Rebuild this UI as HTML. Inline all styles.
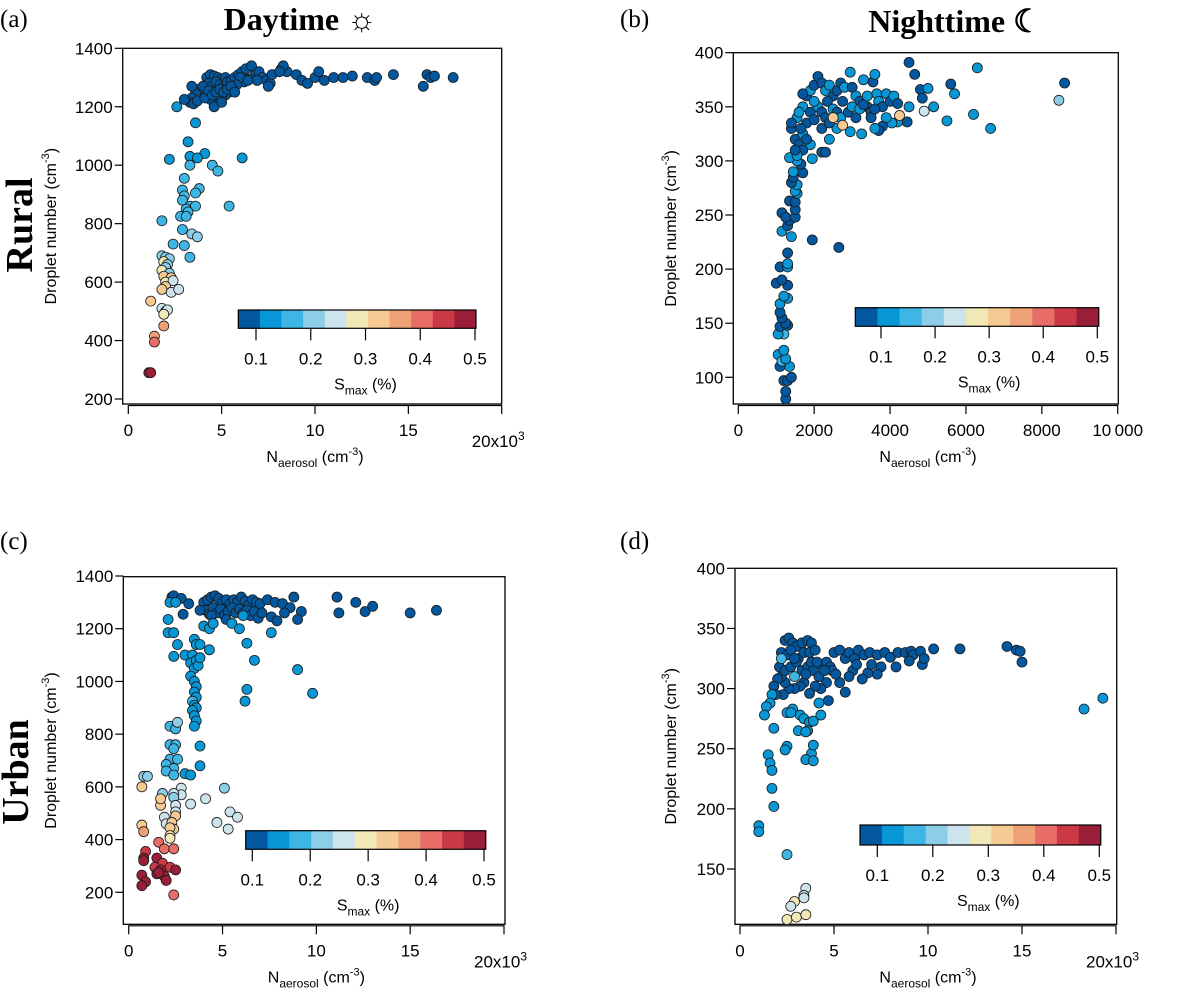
<!DOCTYPE html>
<html><head><meta charset="utf-8"><style>
body{margin:0;background:#fff}
svg text{font-family:"Liberation Sans",Arial,sans-serif;fill:#000}
.serif{font-family:"Liberation Serif","DejaVu Serif",serif}
</style></head><body>
<svg id="fig" width="1187" height="991" viewBox="0 0 1187 991" xmlns="http://www.w3.org/2000/svg">
<text class="serif" x="0" y="27" font-size="25">(a)</text>
<text class="serif" x="620" y="27" font-size="25">(b)</text>
<text class="serif" x="0" y="549" font-size="25">(c)</text>
<text class="serif" x="620" y="549" font-size="25">(d)</text>
<text class="serif" x="300" y="30" font-size="32" font-weight="bold" text-anchor="middle">Daytime ☼</text>
<text class="serif" x="955" y="32" font-size="32" font-weight="bold" text-anchor="middle">Nighttime ☾</text>
<text class="serif" transform="translate(32,225) rotate(-90)" font-size="38" font-weight="bold" text-anchor="middle">Rural</text>
<text class="serif" transform="translate(28,772) rotate(-90)" font-size="38" font-weight="bold" text-anchor="middle">Urban</text>
</svg>
<script>
// ---- data: [N_aerosol, droplet number, Smax] ----
const aPts=[[8.2,1330,.08],[8.5,1320,.08],[9,1310,.08],[9.3,1290,.08],[9.6,1280,.08],[10,1300,.08],[10.2,1320,.08],[10.5,1290,.08],[11,1300,.08],[11.5,1300,.08],[12,1305,.08],[12.8,1300,.08],[13.2,1290,.08],[13.3,1300,.08],[14.2,1310,.08],[15.8,1270,.08],[16,1310,.08],[16.2,1300,.08],[16.4,1305,.08],[17.4,1300,.08],
[4.2,1300,.08],[4.4,1310,.08],[4.6,1305,.08],[4.8,1300,.08],[5.0,1295,.08],[5.2,1300,.08],[4.3,1280,.08],[4.5,1270,.08],[4.7,1285,.08],[4.9,1275,.08],[5.1,1270,.08],[5.3,1285,.08],[5.5,1290,.08],[5.7,1300,.08],[5.9,1310,.08],[6.1,1320,.08],[6.3,1330,.08],[6.6,1340,.08],[6.8,1310,.08],[7.0,1320,.08],[7.2,1300,.08],[7.4,1290,.08],[7.6,1280,.08],[7.7,1310,.08],[7.5,1270,.08],[6.5,1295,.08],[6.2,1285,.08],[6.0,1300,.08],[5.8,1275,.08],[5.6,1260,.08],[5.4,1250,.08],[5.2,1240,.08],[5.0,1230,.08],[4.8,1225,.08],[4.6,1210,.08],[4.4,1225,.08],[4.2,1240,.08],[4.0,1250,.08],[3.8,1260,.08],[3.6,1245,.08],[3.4,1230,.08],[3.3,1215,.08],[3.0,1225,.08],[3.5,1210,.08],[3.7,1220,.08],[4.0,1270,.08],[4.1,1230,.08],[4.3,1255,.08],[4.5,1240,.08],[4.7,1250,.08],[4.9,1260,.08],[5.1,1250,.08],[5.3,1260,.08],[5.5,1270,.08],[5.7,1250,.08],[3.4,1270,.08],[4.6,1200,.08],[5.0,1215,.08],[6.4,1290,.08],[6.9,1290,.08],[8.3,1340,.08],[8.1,1320,.08],
[2.6,1200,.13],[3.6,1145,.13],[3.2,1080,.13],[2.2,1020,.12],[4.1,1040,.13],[3.3,1030,.13],[3.7,1025,.13],[6.1,1025,.12],[3.3,1000,.14],[4.5,1000,.14],[4.8,980,.14],[3,955,.14],[2.9,915,.14],[3.8,920,.15],[3.6,905,.15],[3,895,.15],[2.9,880,.15],[5.4,860,.15],[3.3,860,.15],[3.6,860,.16],[3.1,850,.15],[3.2,840,.15],[2.8,825,.15],[3.1,825,.16],[1.8,810,.14],[2.9,780,.17],[3.4,765,.18],[3.7,755,.18],[2.4,730,.15],[3,725,.15],[3.3,685,.15],
[1.8,690,.2],[2,685,.18],[2.2,680,.2],[1.9,670,.29],[2.1,660,.2],[2,650,.18],[1.8,640,.28],[2.2,630,.2],[1.9,620,.3],[2.3,615,.31],[2.0,600,.29],[2.4,605,.25],[2,585,.3],[1.8,575,.3],[2.3,565,.22],[2.7,575,.25],[1.2,535,.32],[1.8,510,.22],[2,500,.25],[2.1,505,.24],[1.9,490,.27],[1.9,450,.35],[1.4,415,.36],[1.4,395,.38],[1.1,290,.48],[1.2,290,.48]];
const bPts=[[1250,80,.08],[1250,87,.08],[1200,97,.08],[1300,97,.08],[1400,100,.08],[1350,110,.12],[1100,110,.08],[1050,121,.12],[1150,115,.14],[1250,117,.12],[1200,125,.12],[1200,140,.14],[1050,140,.12],[1100,147,.08],[1300,148,.08],[1250,150,.08],[1150,155,.08],[1100,160,.08],[1100,168,.12],[1300,173,.12],[1200,175,.12],[1300,185,.08],[1000,187,.08],[1150,190,.08],[1100,202,.08],[1300,202,.12],[1300,205,.12],[1300,215,.08],[1150,235,.12],[1400,230,.12],[1300,240,.08],[1350,245,.08],[1150,252,.08],[1250,248,.08],[1500,248,.08],[1500,255,.08],[1350,263,.08],[1500,262,.08],[1550,270,.12],[1500,272,.12],[1550,278,.12],[1400,280,.08],[1450,285,.08],[1450,290,.12],[1700,289,.08],[1650,297,.08],[1550,300,.12],[1350,303,.12],[1950,302,.12],[2650,220,.08],[1950,227,.08],
[4500,391,.08],[4650,380,.08],[6300,386,.12],[4800,366,.08],[5000,367,.12],[4850,358,.08],[5600,371,.08],[5700,362,.12],[5150,350,.12],[4900,346,.22],[4500,350,.12],[4450,336,.08],[5500,337,.12],[6200,343,.12],[6650,330,.12],[8450,356,.2],[8600,372,.08],
[1400,330,.08],[1500,320,.08],[1600,315,.08],[1700,325,.12],[1800,335,.08],[1550,340,.12],[1700,350,.12],[1800,360,.08],[1900,365,.12],[2000,370,.08],[2100,378,.08],[2200,372,.08],[2300,365,.12],[2400,370,.12],[2500,360,.08],[2600,365,.08],[2700,372,.08],[2800,368,.12],[2950,382,.12],[3000,368,.08],[3100,360,.12],[3200,355,.08],[3300,375,.12],[3400,350,.08],[3500,345,.08],[3550,373,.08],[3600,380,.12],[3650,362,.12],[3700,355,.12],[3800,350,.08],[3900,362,.12],[4000,355,.08],[4100,360,.12],[4200,353,.08],[4200,336,.12],[4050,335,.12],[3900,340,.12],[3800,332,.08],[3700,328,.08],[3600,330,.12],[3250,325,.12],[2950,327,.12],[2600,330,.12],[2400,320,.12],[2200,308,.08],[2300,308,.08],[1900,315,.12],[1700,310,.08],[1550,305,.12],[1650,330,.08],[1900,345,.08],[2000,338,.08],[2100,350,.12],[2200,345,.08],[2300,340,.08],[2350,355,.08],[2500,348,.12],[2600,345,.08],[2700,340,.12],[2750,355,.08],[2900,345,.08],[3000,350,.12],[3100,340,.08],[3200,348,.12],[3300,352,.08],[3400,360,.12],[2000,355,.12],[2200,330,.08],[2400,335,.08],[1800,320,.08],[1500,310,.08],[1600,345,.12],[1400,335,.08],[1700,362,.08],[3500,340,.08],[3600,348,.08],
[4250,342,.3],[2750,333,.3],[2500,340,.3]];
const cPts=[[2.3,1320,.08],[2.4,1325,.08],[2.8,1315,.08],[3.2,1295,.08],[2.9,1255,.08],[4.0,1300,.08],[4.2,1310,.08],[4.4,1320,.08],[4.6,1325,.08],[4.8,1315,.08],[5.0,1300,.08],[5.2,1310,.08],[5.4,1295,.08],[5.6,1310,.08],[5.8,1300,.08],[6.0,1320,.08],[6.2,1305,.08],[6.4,1290,.08],[6.6,1310,.08],[6.8,1300,.08],[7.0,1295,.08],[7.4,1310,.08],[7.8,1300,.08],[8.2,1295,.08],[8.6,1280,.08],[8.8,1320,.08],[4.1,1270,.08],[4.3,1255,.08],[4.5,1280,.08],[4.7,1260,.08],[4.9,1275,.08],[5.1,1250,.08],[5.3,1265,.08],[5.5,1280,.08],[5.7,1260,.08],[5.9,1275,.08],[6.1,1260,.08],[6.3,1270,.08],[6.5,1250,.08],[6.7,1265,.08],[6.9,1240,.08],[7.1,1260,.08],[7.6,1245,.08],[7.9,1230,.08],[8.3,1260,.08],[9.2,1265,.08],[9.0,1235,.08],[11.1,1320,.08],[11.2,1260,.08],[12.1,1300,.08],[12.6,1265,.08],[13.0,1285,.08],[15.0,1260,.08],[16.4,1270,.08],[4.4,1250,.08],[3.8,1270,.08],[5.2,1235,.08],
[2.2,1300,.13],[2.5,1300,.13],[2.1,1235,.13],[2.1,1185,.13],[2.4,1185,.13],[2.6,1140,.13],[2.4,1095,.13],[3.0,1100,.13],[3.4,1100,.13],[3.5,1160,.13],[3.6,1140,.13],[3.8,1140,.13],[4.3,1120,.13],[3.3,1070,.13],[3.5,1050,.13],[3.6,1080,.13],[3.7,1060,.13],[3.3,1020,.13],[3.5,1000,.13],[3.6,980,.13],[3.5,960,.13],[3.6,940,.13],[3.4,925,.14],[3.5,910,.13],[3.6,900,.13],[3.4,890,.13],[3.5,870,.13],[3.6,850,.13],[3.5,830,.13],[3.8,1090,.13],[4.0,1210,.13],[4.3,1200,.13],[4.5,1220,.13],[5.5,1220,.13],[5.9,1200,.13],[6.1,1250,.13],[7.6,1185,.13],[6.3,1145,.13],[6.7,1080,.13],[9.0,1045,.13],[9.8,955,.13],[6.3,970,.13],[6.2,925,.13],[3.8,755,.13],[3.8,680,.13],[3.0,650,.13],[3.3,645,.13],
[2.2,830,.17],[2.5,820,.17],[2.6,845,.19],[2.2,760,.17],[2.5,760,.17],[2.4,745,.17],[2.2,705,.15],[2.6,705,.16],[2.0,685,.15],[2.4,670,.17],[2.0,660,.15],[2.4,645,.17],[0.8,640,.2],[1.0,640,.2],[5.1,595,.19],[2.8,595,.22],[2.8,570,.22],[2.4,575,.22],[1.8,575,.2],[2.4,560,.2],[4.1,555,.23],[3.3,535,.22],[2.5,530,.22],[1.7,530,.32],[1.7,555,.3],[2.5,505,.22],[5.4,505,.22],[5.8,485,.22],[1.9,485,.22],[2.5,490,.3],[4.7,465,.22],[5.3,440,.22],[2.0,460,.24],[2.3,465,.3],[2.4,440,.3],[2.2,445,.33],[2.2,415,.29],[0.7,600,.3],[0.7,455,.3],[0.8,430,.37],[2.2,405,.28],
[1.6,390,.4],[1.9,365,.41],[2.4,365,.42],[0.9,355,.46],[0.8,330,.47],[0.8,320,.47],[1.5,330,.47],[1.8,310,.46],[1.4,295,.46],[1.7,285,.47],[2.2,295,.46],[2.5,285,.47],[0.7,265,.48],[1.5,270,.47],[1.9,260,.48],[2.0,245,.48],[0.9,240,.48],[0.7,225,.48],[1.6,275,.48],[2.4,190,.4]];
const dPts=[[2.4,340,.08],[2.6,342,.08],[2.8,338,.08],[3.0,335,.08],[3.3,338,.08],[3.6,340,.08],[3.8,338,.08],[2.2,330,.08],[2.5,328,.08],[2.7,332,.08],[3.1,325,.08],[3.4,330,.08],[3.7,330,.08],[4.0,332,.08],[4.3,320,.08],[4.6,322,.08],[4.8,318,.08],[5.0,330,.08],[5.3,332,.08],[5.6,325,.08],[5.8,330,.08],[6.1,325,.08],[6.3,332,.08],[6.6,328,.08],[6.9,330,.08],[7.3,328,.08],[7.7,330,.08],[8.0,326,.08],[8.4,330,.08],[8.8,330,.08],[9.1,331,.08],[9.2,328,.08],[9.6,331,.08],[10.3,333,.08],[11.7,333,.08],[14.2,335,.08],[14.7,332,.08],[14.9,331,.08],[15.0,322,.08],[9.7,320,.08],[9.8,325,.08],[9.0,323,.08],[8.3,318,.08],[7.5,318,.08],[7.3,312,.08],[6.8,313,.08],[6.5,308,.08],[6.0,315,.08],[5.8,310,.08],[5.6,297,.08],[5.3,305,.08],[4.9,315,.08],[4.6,305,.08],[4.3,300,.08],[4.0,302,.08],[3.7,296,.08],[3.4,305,.08],[3.2,302,.08],[2.9,300,.08],[2.6,300,.08],[2.4,305,.08],[2.2,310,.08],[2.0,308,.08],[1.8,302,.08],[2.1,318,.08],[2.4,315,.08],[2.7,318,.08],[3.0,322,.08],[3.3,315,.08],[3.6,318,.08],[3.9,315,.08],[4.2,310,.08],[4.5,315,.08],[5.1,312,.08],[2.3,295,.08],[1.9,295,.08],[3.5,312,.08],[3.8,322,.08],[4.1,322,.08],[6.2,320,.08],[7.0,320,.08],[4.7,290,.08],[2.9,325,.08],
[2.2,325,.14],[2.9,310,.14],[1.7,295,.13],[1.6,288,.13],[1.4,285,.13],[1.3,278,.13],[1.8,267,.13],[2.5,280,.13],[2.8,283,.13],[2.7,280,.13],[3.2,278,.13],[3.4,275,.13],[3.7,272,.13],[3.9,273,.13],[4.3,278,.13],[4.2,288,.13],[3.6,265,.13],[3.1,265,.13],[3.5,264,.13],[1.5,245,.13],[1.6,238,.13],[1.7,232,.13],[1.7,217,.13],[1.8,202,.13],[2.5,252,.13],[2.4,249,.13],[3.8,246,.13],[3.9,253,.13],[3.5,241,.13],[3.9,240,.13],[1.0,186,.13],[1.0,181,.13],[2.5,162,.14],[18.3,283,.13],[19.3,292,.13],
[3.5,134,.23],[3.4,128,.23],[3.4,126,.22],[2.9,123,.29],[2.7,119,.24],[2.5,108,.29],[3.0,110,.29],[3.5,112,.29]];
const aYTicks=[200,400,600,800,1000,1200,1400];
const bYTicks=[100,150,200,250,300,350,400];
const cYTicks=[200,400,600,800,1000,1200,1400];
const dYTicks=[150,200,250,300,350,400];
const kXTicks=[0,5,10,15,20];
const bXTicks=[0,2000,4000,6000,8000,10000];
const cbTicks=[0.1,0.2,0.3,0.4,0.5];
const cbColors=['#02579e','#0797d6','#3db6e6','#8ccde8','#cde4ec','#f1e7b7','#f6cb93','#efa176','#e86d67','#cb3846','#9a1e37'];

const NS='http://www.w3.org/2000/svg';
const svg=document.getElementById('fig');
function el(tag,attrs,parent){const e=document.createElementNS(NS,tag);for(const k in attrs)e.setAttribute(k,attrs[k]);(parent||svg).appendChild(e);return e;}
function colorFor(s){let i=Math.floor((s-0.052)/0.041);i=Math.max(0,Math.min(10,i));return cbColors[i];}

function panel(p){
  const g=el('g',{});
  
  
  const X=v=>p.x0+(v-p.xv0)/(p.xv1-p.xv0)*(p.x1-p.x0);
  const Y=v=>p.y0+(v-p.yv0)/(p.yv1-p.yv0)*(p.y1-p.y0);
  const fr=el('rect',{x:p.L,y:p.T,width:p.R-p.L,height:p.B-p.T,fill:'none',stroke:'#000','stroke-width':1.3},g);
  
  
  p.yt.forEach(v=>{
    const ln=el('line',{x1:p.L-8,x2:p.L,y1:Y(v),y2:Y(v),stroke:'#000','stroke-width':1.2},g);
    
    
    const t=el('text',{x:p.L-10,y:Y(v)+6,'font-size':17,'text-anchor':'end'},g);
    t.textContent=v;
    
    
  });
  const xa=el('line',{x1:p.x0,x2:p.x1,y1:p.B+1.5,y2:p.B+1.5,stroke:'#000','stroke-width':1.2},g);
  
  
  p.xt.forEach((v,i)=>{
    const ln=el('line',{x1:X(v),x2:X(v),y1:p.B+1,y2:p.B+10,stroke:'#000','stroke-width':1.2},g);
    
    
    const last=p.k&&i===p.xt.length-1;
    const t=el('text',{x:last?X(v)-30:X(v),y:last?p.B+43:p.B+32,'font-size':17,'text-anchor':last?'start':'middle'},g);
    if(last){t.textContent=v+'x10';const sp=el('tspan',{dy:-7,'font-size':12},t);sp.textContent='3';}
    else t.textContent=(v===10000?'10\u2009000':v);
    
    
  });
  const yl=el('text',{transform:`translate(${p.ylx},${(p.T+p.B)/2}) rotate(-90)`,'font-size':16,'text-anchor':'middle'},g);
  yl.innerHTML='Droplet number (cm<tspan dy="-7" font-size="11">-3</tspan><tspan dy="7">)</tspan>';
  
  
  const xl=el('text',{x:(p.x0+p.x1)/2,y:p.B+58,'font-size':16,'text-anchor':'middle'},g);
  xl.innerHTML='N<tspan dy="5" font-size="12">aerosol</tspan><tspan dy="-5"> (cm</tspan><tspan dy="-7" font-size="11">-3</tspan><tspan dy="7">)</tspan>';
  
  
  p.pts.forEach(d=>{
    const c=el('circle',{cx:X(d[0]),cy:Y(d[1]),r:5,fill:colorFor(d[2]),stroke:'#1a1a1a','stroke-width':0.8},g);
    
    
  });
  const cb=el('g',{},g);
  
  
  const w=(p.cb[1]-p.cb[0])/11;
  cbColors.forEach((col,i)=>{
    const r=el('rect',{x:p.cb[0]+i*w,y:p.cb[2],width:w+0.5,height:p.cb[3]-p.cb[2],fill:col},cb);
    
    
  });
  el('rect',{x:p.cb[0],y:p.cb[2],width:p.cb[1]-p.cb[0],height:p.cb[3]-p.cb[2],fill:'none',stroke:'#000','stroke-width':1.2},cb);
  const T=v=>p.cb[4]+(v-0.1)/0.4*(p.cb[5]-p.cb[4]);
  cbTicks.forEach(v=>{
    const ln=el('line',{x1:T(v),x2:T(v),y1:p.cb[3],y2:p.cb[3]+12,stroke:'#000','stroke-width':1.2},cb);
    
    
    const t=el('text',{x:T(v),y:p.cb[3]+36,'font-size':17,'text-anchor':'middle'},cb);
    t.textContent=v.toFixed(1);
    
    
  });
  const ct=el('text',{x:(p.cb[4]+p.cb[5])/2,y:p.cb[3]+61,'font-size':16,'text-anchor':'middle'},cb);
  ct.innerHTML='S<tspan dy="5" font-size="12">max</tspan><tspan dy="-5"> (%)</tspan>';
  
  
}

panel({name:'panel-a-rural-day',pts:aPts,L:122.7,R:501.7,T:48.3,B:404,x0:128.3,x1:501.7,xv0:0,xv1:20,y0:48.3,y1:399,yv0:1400,yv1:200,yt:aYTicks,xt:kXTicks,k:true,ylx:56,cb:[238.3,476,310,328.3,256,475]});
panel({name:'panel-b-rural-night',pts:bPts,L:733.3,R:1118.3,T:52.7,B:404,x0:738.3,x1:1117.7,xv0:0,xv1:10000,y0:52.7,y1:377.3,yv0:400,yv1:100,yt:bYTicks,xt:bXTicks,k:false,ylx:676,cb:[855.3,1098.7,307.7,326.3,881,1097.3]});
panel({name:'panel-c-urban-day',pts:cPts,L:123.3,R:505,T:576.7,B:924.3,x0:128.7,x1:504,xv0:0,xv1:20,y0:576,y1:892.3,yv0:1400,yv1:200,yt:cYTicks,xt:kXTicks,k:true,ylx:56,cb:[245.7,485.7,830.7,849.3,252.3,484]});
panel({name:'panel-d-urban-night',pts:dPts,L:735,R:1116.7,T:568.3,B:924.3,x0:740,x1:1116,xv0:0,xv1:20,y0:568.3,y1:869,yv0:400,yv1:150,yt:dYTicks,xt:kXTicks,k:true,ylx:676,cb:[860,1100.7,825,845,877.3,1099.3]});
</script>
</body></html>
